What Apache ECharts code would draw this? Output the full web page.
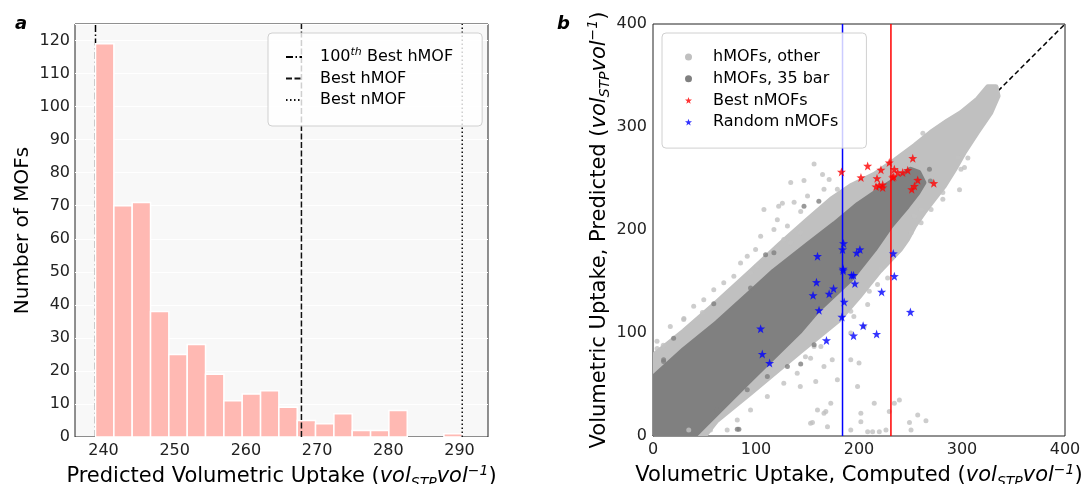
<!DOCTYPE html>
<html>
<head>
<meta charset="utf-8">
<script src="https://cdn.jsdelivr.net/npm/echarts@6.0.0/dist/echarts.min.js"></script>
<style>
html, body { margin: 0; padding: 0; background: #fff; }
#chart { width: 1083px; height: 484px; }
</style>
</head>
<body>
<div id="chart"></div>
<script>
var FONT = 'DejaVu Sans';

// ---- panel a : histogram of predicted uptake of the nMOFs ----
var binEdges = [238.88, 241.46, 244.03, 246.61, 249.18, 251.76, 254.33, 256.91, 259.48, 262.06,
                264.63, 267.21, 269.78, 272.36, 274.93, 277.51, 280.08, 282.66, 285.23, 287.81, 290.38];
var binCounts = [119, 70, 71, 38, 25, 28, 19, 11, 13, 14, 9, 5, 4, 7, 2, 2, 8, 0, 0, 1];
var hmof100th = 238.88;
var bestHmof = 267.8;
var bestNmof = 290.38;
var histXRange = [236, 294];
var histYRange = [0, 125];

// ---- panel b : predicted vs computed ----
// outline of the dense clouds (computed, predicted)
var otherCloud = [[0, 0], [0, 78], [30, 102], [62, 130], [95, 160], [124, 187], [150, 210], [173, 230],
                  [192, 243], [215, 254], [235, 268], [254, 282], [270, 295], [286, 306], [299, 314],
                  [315, 327], [325, 339], [333, 339], [335, 330], [328, 314], [315, 295], [302, 275],
                  [293, 259], [283, 243], [273, 230], [263, 217], [254, 204], [247, 191], [240, 181],
                  [220, 160], [200, 135], [180, 112], [143, 82], [95, 42], [62, 15], [50, 0]];
var bar35Cloud = [[0, 0], [0, 57], [30, 84], [62, 110], [95, 140], [117, 160], [150, 186], [176, 206],
                  [199, 225], [221, 240], [240, 252], [250, 259], [258, 256], [263, 246], [257, 236],
                  [247, 223], [231, 204], [215, 181], [192, 152], [160, 122], [143, 102], [95, 55], [40, 0]];
// scattered points around the dense clouds
var otherDots = [[4, 85], [10, 88], [30, 114], [48, 120], [85, 168], [107.7, 220], [122, 223], [125.6, 226],
                 [133.7, 246], [146.6, 248], [156.4, 264], [164.6, 254], [171, 249], [137, 227], [143.4, 218],
                 [120.7, 210], [130.5, 204], [117.4, 178], [111, 175], [262, 294], [34.7, 5.8],
                 [166, 22], [169.4, 9], [153, 12.4], [192, 5.8], [200, 70.8], [156.4, 87], [174, 74],
                 [153, 75.6], [148, 77], [158, 53], [167.8, 23.7], [154.8, 13], [201.8, 22], [201.8, 13.9],
                 [208.4, 4.2], [213.2, 4.2], [219.7, 4.2], [226.2, 5.8], [239.2, 35], [234.3, 31.8],
                 [229.4, 23.7], [249, 13], [257, 20.4], [265, 14.9], [250.5, 5.8], [214.8, 31.8],
                 [205, 106.4], [210, 140.5], [218, 147], [227.8, 153.5], [192, 121], [195, 116],
                 [221, 161.6], [305.7, 270], [302.4, 260.6], [297.6, 239], [281.4, 229.8], [270, 220],
                 [260.3, 207], [250.5, 197.4], [143, 48],
                 [29.8, 113], [68.7, 148.7], [49.3, 132.4], [16.8, 106.4], [3.9, 92], [39.5, 125.9],
                 [59, 142], [78.5, 155], [101, 164.8], [94.7, 158.4], [120.7, 181], [133.7, 187.6],
                 [143.4, 197.4], [159.7, 25.3], [172.6, 31.8], [179, 54.5], [198.6, 48], [192, 74],
                 [166, 67.5], [127, 51.3], [111, 38.3], [94.7, 25.3], [81.8, 15.6], [72, 5.8], [55.8, 5.8],
                 [140, 61], [163, 87], [192, 100], [208.4, 127.6], [117.4, 200.6], [127, 190.8],
                 [104.5, 194], [99.6, 181], [91.5, 174.6], [150, 233], [166, 239.5], [179, 239.5],
                 [296, 270.4], [299, 259], [281.4, 236.3], [260.3, 220], [253.8, 213.5]];
var bar35Dots = [[59, 128.5], [10.3, 74], [83.4, 6.5], [130.5, 67.5], [109.3, 176], [156.4, 88.6],
                 [143.4, 70], [268.4, 259], [269.3, 247.6], [146.6, 223], [161, 228], [20, 95],
                 [10.3, 72.3], [94.7, 143.8], [117.4, 178], [81.8, 6.5], [111, 57.7], [91.5, 44.8],
                 [62, 25.3]];
var bestNmofs = [[183, 256.4], [208.4, 262.2], [201.9, 251], [221.3, 258.4], [229.4, 265.5], [217.5, 250.2],
                 [216.5, 242.2], [219.7, 243.4], [223, 244.1], [223, 241.2], [232.7, 251], [234.3, 259],
                 [237.6, 255.8], [242.4, 255.8], [247.3, 258], [252.2, 269.7], [257, 248.6], [253.8, 242.7],
                 [251.2, 239.5], [272.6, 245.4], [233.7, 252]];
var randomNmofs = [[185, 187], [184, 181.1], [200.9, 181.1], [197.7, 177.9], [233.3, 177.2], [159.7, 174.6],
                   [184.6, 162.3], [184.6, 160.7], [194.7, 156.1], [192.8, 156.1], [234.3, 155.1],
                   [158.7, 149.3], [196, 148], [175.3, 143.1], [155.4, 136.6], [171, 138], [222, 139.9],
                   [185.6, 130.2], [161.2, 122], [249.9, 120.4], [183.4, 115.6], [204, 107.1], [104.5, 104.2],
                   [168.4, 92.8], [194.7, 97.4], [217.1, 99], [106.1, 79.6], [113.2, 70.8]];
var randomCut = 184;
var bestCut = 231;
var parityLine = [0, 400];
var scatterRange = [0, 400];

var STAR = 'path://M0,-10L2.35,-3.24L9.51,-3.09L3.8,1.24L5.88,8.09L0,4L-5.88,8.09L-3.8,1.24L-9.51,-3.09L-2.35,-3.24Z';

function unitRich(size) {
    return {
        it: { fontFamily: FONT, fontSize: size, fontStyle: 'italic', lineHeight: 26, color: '#000' },
        sub: { fontFamily: FONT, fontSize: 14, fontStyle: 'italic', lineHeight: 14, verticalAlign: 'bottom', color: '#000' },
        sup: { fontFamily: FONT, fontSize: 14, fontStyle: 'italic', lineHeight: 14, verticalAlign: 'top', color: '#000' }
    };
}
var unitText = '({it|vol}{sub|STP}{it|vol}{sup|\u22121})';

function axisName(text, size) {
    return {
        name: text,
        nameLocation: 'middle',
        nameTextStyle: { fontFamily: FONT, fontSize: size, color: '#000', lineHeight: 26, rich: unitRich(size) }
    };
}

// the clouds hold thousands of points: draw their outline, padded by a dot radius
function cloudSeries(name, pts, color) {
    return {
        type: 'custom',
        name: name,
        xAxisIndex: 1,
        yAxisIndex: 1,
        z: 2,
        silent: true,
        clip: true,
        itemStyle: { color: color },
        data: [[pts[0][0], pts[0][1]]],
        renderItem: function(params, api) {
            var poly = pts.map(function(p) { return api.coord(p); });
            return {
                type: 'polygon',
                shape: { points: poly },
                style: { fill: color, stroke: color, lineWidth: 5, lineJoin: 'round' }
            };
        }
    };
}

function vline(name, x, yRange, color, type, xi, z) {
    return {
        type: 'line',
        name: name,
        xAxisIndex: xi,
        yAxisIndex: xi,
        z: z,
        silent: true,
        symbol: 'none',
        itemStyle: { color: 'rgba(0,0,0,0)' },
        data: [[x, yRange[0]], [x, yRange[1]]],
        lineStyle: { color: color, width: 1.5, type: type }
    };
}

var labelStyle = { fontFamily: FONT, fontSize: 16, color: '#222' };

var chart = echarts.init(document.getElementById('chart'));

var option = {
    animation: false,
    backgroundColor: '#fff',
    title: [
        { text: 'a', left: 10, top: 10, textStyle: { fontFamily: FONT, fontSize: 18, fontStyle: 'italic', fontWeight: 'bold', color: '#000' } },
        { text: 'b', left: 552, top: 10, textStyle: { fontFamily: FONT, fontSize: 18, fontStyle: 'italic', fontWeight: 'bold', color: '#000' } }
    ],
    grid: [
        { left: 75, right: 595, top: 24, bottom: 47, show: true, backgroundColor: '#f8f8f8', borderColor: '#222', borderWidth: 1, outerBoundsMode: 'none', containLabel: false },
        { left: 653, right: 18, top: 24, bottom: 48, show: true, backgroundColor: '#fff', borderColor: '#222', borderWidth: 1, outerBoundsMode: 'none', containLabel: false }
    ],
    xAxis: [
        Object.assign(axisName('Predicted Volumetric Uptake ' + unitText, 21), {
            type: 'value', gridIndex: 0, min: histXRange[0], max: histXRange[1], nameGap: 18,
            axisLine: { show: false }, axisTick: { show: false }, splitLine: { show: false },
            axisLabel: Object.assign({ margin: 6, showMinLabel: false, showMaxLabel: false }, labelStyle)
        }),
        Object.assign(axisName('Volumetric Uptake, Computed ' + unitText, 21), {
            type: 'value', gridIndex: 1, min: scatterRange[0], max: scatterRange[1], interval: 100, nameGap: 18,
            axisLine: { show: false }, axisTick: { show: false }, splitLine: { show: false },
            axisLabel: Object.assign({ margin: 6 }, labelStyle)
        })
    ],
    yAxis: [
        Object.assign(axisName('Number of MOFs', 20), {
            type: 'value', gridIndex: 0, min: histYRange[0], max: histYRange[1], interval: 10,
            nameRotate: 90, nameGap: 37,
            axisLine: { show: false }, axisTick: { show: false },
            splitLine: { show: true, lineStyle: { color: '#ffffff', width: 1 } },
            axisLabel: Object.assign({ margin: 5, showMaxLabel: false }, labelStyle)
        }),
        Object.assign(axisName('Volumetric Uptake, Predicted ' + unitText, 21), {
            type: 'value', gridIndex: 1, min: scatterRange[0], max: scatterRange[1], interval: 100,
            nameRotate: 90, nameGap: 39,
            axisLine: { show: false }, axisTick: { show: false }, splitLine: { show: false },
            axisLabel: Object.assign({ margin: 6 }, labelStyle)
        })
    ],
    legend: [
        {
            orient: 'vertical', left: 268, top: 33, z: 10,
            padding: [14, 29, 16, 17], itemGap: 1.5, itemWidth: 16, itemHeight: 10,
            backgroundColor: 'rgba(255,255,255,0.8)', borderColor: '#d0d0d0', borderWidth: 1, borderRadius: 4,
            itemStyle: { color: 'rgba(0,0,0,0)', borderWidth: 0 },
            data: ['100th Best hMOF', 'Best hMOF', 'Best nMOF'],
            formatter: function(name) {
                if (name === '100th Best hMOF') return '{g| }100{s|th} Best hMOF';
                return '{g| }' + name;
            },
            textStyle: {
                fontFamily: FONT, fontSize: 16, color: '#000', lineHeight: 20,
                rich: {
                    g: { width: 13, fontSize: 16, lineHeight: 20 },
                    s: { fontFamily: FONT, fontSize: 11, fontStyle: 'italic', verticalAlign: 'top', lineHeight: 12, color: '#000' }
                }
            }
        },
        {
            orient: 'vertical', left: 662, top: 33, z: 10,
            padding: [14, 28, 16, 23], itemGap: 1.7, itemWidth: 7, itemHeight: 7,
            backgroundColor: 'rgba(255,255,255,0.8)', borderColor: '#d0d0d0', borderWidth: 1, borderRadius: 4,
            data: [
                { name: 'hMOFs, other', icon: 'circle' },
                { name: 'hMOFs, 35 bar', icon: 'circle' },
                { name: 'Best nMOFs', icon: STAR },
                { name: 'Random nMOFs', icon: STAR }
            ],
            formatter: function(name) { return '{g| }' + name; },
            textStyle: {
                fontFamily: FONT, fontSize: 16, color: '#000', lineHeight: 20,
                rich: { g: { width: 16, fontSize: 16, lineHeight: 20 } }
            }
        }
    ],
    series: [
        vline('100th Best hMOF', hmof100th, histYRange, '#000', [7, 2.5, 1.5, 2.5], 0, 1),
        {
            type: 'custom',
            name: 'Predicted uptake',
            xAxisIndex: 0,
            yAxisIndex: 0,
            z: 2,
            silent: true,
            encode: { x: [0, 1], y: 2 },
            data: binCounts.map(function(c, i) { return [binEdges[i], binEdges[i + 1], c]; }),
            renderItem: function(params, api) {
                if (!api.value(2)) return null;
                var p0 = api.coord([api.value(0), api.value(2)]);
                var p1 = api.coord([api.value(1), 0]);
                return {
                    type: 'rect',
                    shape: { x: p0[0], y: p0[1], width: p1[0] - p0[0], height: p1[1] - p0[1] },
                    style: { fill: '#ffb9b3', stroke: '#ffffff', lineWidth: 1.5 }
                };
            }
        },
        vline('Best hMOF', bestHmof, histYRange, '#111', [6, 2.5], 0, 3),
        vline('Best nMOF', bestNmof, histYRange, '#111', [1.5, 2.5], 0, 3),

        {
            type: 'line', name: 'parity', xAxisIndex: 1, yAxisIndex: 1, z: 1, silent: true, symbol: 'none',
            data: [[parityLine[0], parityLine[0]], [parityLine[1], parityLine[1]]],
            lineStyle: { color: '#000', width: 1.5, type: [5, 3] }
        },
        cloudSeries('hMOFs, other', otherCloud, '#c0c0c0'),
        {
            type: 'scatter', name: 'hMOFs, other', xAxisIndex: 1, yAxisIndex: 1, z: 2, silent: true,
            symbol: 'circle', symbolSize: 5, data: otherDots, itemStyle: { color: '#c0c0c0' }
        },
        cloudSeries('hMOFs, 35 bar', bar35Cloud, '#808080'),
        {
            type: 'scatter', name: 'hMOFs, 35 bar', xAxisIndex: 1, yAxisIndex: 1, z: 2, silent: true,
            symbol: 'circle', symbolSize: 5, data: bar35Dots, itemStyle: { color: '#808080' }
        },
        vline('random cut', randomCut, scatterRange, '#0000ff', 'solid', 1, 3),
        vline('best cut', bestCut, scatterRange, '#ff0000', 'solid', 1, 3),
        {
            type: 'scatter', name: 'Best nMOFs', xAxisIndex: 1, yAxisIndex: 1, z: 3, silent: true,
            symbol: STAR, symbolSize: 9, data: bestNmofs, itemStyle: { color: '#ff0000' }
        },
        {
            type: 'scatter', name: 'Random nMOFs', xAxisIndex: 1, yAxisIndex: 1, z: 3, silent: true,
            symbol: STAR, symbolSize: 9, data: randomNmofs, itemStyle: { color: '#0000ff' }
        }
    ]
};

chart.setOption(option);
</script>
</body>
</html>
